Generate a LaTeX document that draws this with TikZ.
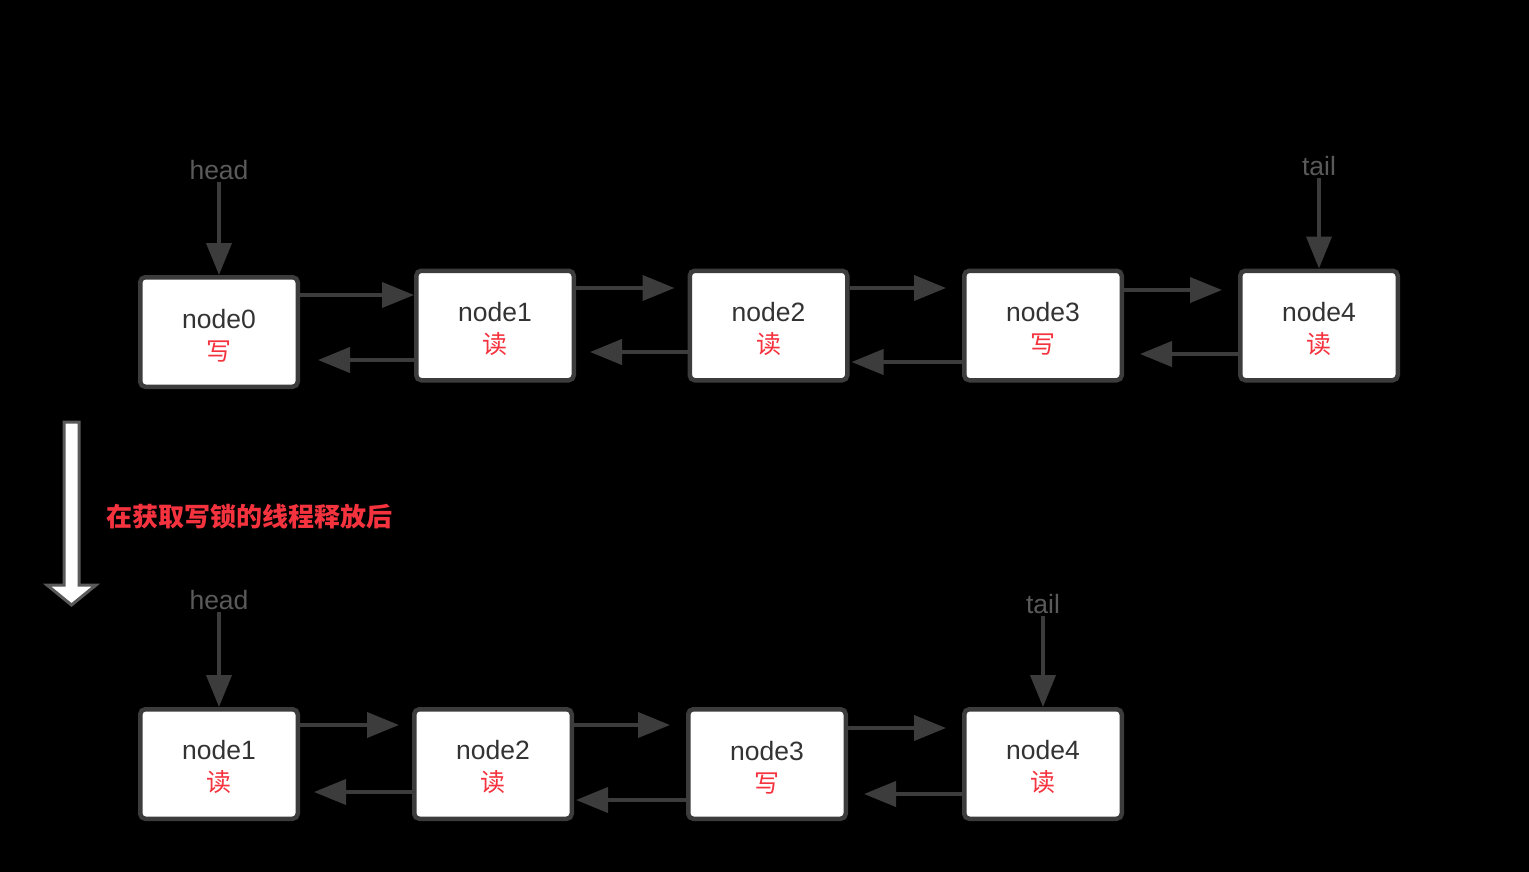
\documentclass[tikz,border=0pt]{standalone}
\usepackage{fontspec}
\setmainfont{Liberation Sans}
\newfontfamily\cjk{Noto Sans CJK SC}
\usetikzlibrary{arrows.meta}
\definecolor{lc}{HTML}{3C3C3C}
\definecolor{tc}{HTML}{333333}
\definecolor{gc}{HTML}{5A5A5A}
\definecolor{rc}{HTML}{F5333F}
\tikzset{
  box/.style={draw=lc, line width=4.5pt, fill=white, rounded corners=5pt,
    minimum width=157.5pt, minimum height=109.5pt, inner sep=0pt, align=center,
    text=tc, font=\fontsize{26.5}{32}\selectfont},
  link/.style={draw=lc, line width=4pt, -{Triangle[length=32pt,width=25pt]}},
  ptr/.style={text=gc, font=\fontsize{26.5}{30}\selectfont, inner sep=2pt},
}
\newcommand{\rd}[1]{{\color{rc}\cjk\fontsize{25}{32}\selectfont #1}}
\newcommand{\bx}[2]{\rule{0pt}{26pt}#1\\\rd{#2}}
\begin{document}
\begin{tikzpicture}[x=1pt,y=-1pt]
\fill[black] (0,0) rectangle (1529,872);
\useasboundingbox (0,0) rectangle (1529,872);
% top row
\node[box] (n0) at (219,332) {\bx{node0}{写}};
\node[box] (n1) at (495,325.5) {\bx{node1}{读}};
\node[box] (n2) at (768.5,325.5) {\bx{node2}{读}};
\node[box] (n3) at (1043,325.5) {\bx{node3}{写}};
\node[box] (n4) at (1319,325.5) {\bx{node4}{读}};
\node[ptr] (h1) at (219,170) {head};
\node[ptr] (t1) at (1319,166) {tail};
\draw[link] (h1.south) -- (n0.north);
\draw[link] (t1.south) -- (n4.north);
\draw[link] (n0.east |- 0,295) -- (n1.west |- 0,295);
\draw[link, shorten >=13pt] (n1.east |- 0,288) -- (n2.west |- 0,288);
\draw[link, shorten >=16pt] (n2.east |- 0,288) -- (n3.west |- 0,288);
\draw[link, shorten >=16pt] (n3.east |- 0,290) -- (n4.west |- 0,290);
\draw[link, shorten >=18pt] (n1.west |- 0,360) -- (n0.east |- 0,360);
\draw[link, shorten >=14pt] (n2.west |- 0,352) -- (n1.east |- 0,352);
\draw[link, shorten >=2pt] (n3.west |- 0,362) -- (n2.east |- 0,362);
\draw[link, shorten >=16pt] (n4.west |- 0,354) -- (n3.east |- 0,354);
% big arrow
\draw[draw=gc, line width=3pt, fill=white, line join=miter]
  (64,422) -- (79,422) -- (79,585) -- (96,585) -- (71.5,605) -- (47,585) -- (64,585) -- cycle;
\node[text=rc, font=\cjk\bfseries\fontsize{26}{30}\selectfont, anchor=west, inner sep=0pt] (cap) at (106,517) {在获取写锁的线程释放后};
% bottom row
\node[box] (m1) at (219,764) {\bx{node1}{读}};
\node[box] (m2) at (493,764) {\bx{node2}{读}};
\node[box] (m3) at (767,764) {\bx{node3}{写}};
\node[box] (m4) at (1043,764) {\bx{node4}{读}};
\node[ptr] (h2) at (219,600) {head};
\node[ptr] (t2) at (1043,604) {tail};
\draw[link] (h2.south) -- (m1.north);
\draw[link] (t2.south) -- (m4.north);
\draw[link, shorten >=13pt] (m1.east |- 0,725) -- (m2.west |- 0,725);
\draw[link, shorten >=16pt] (m2.east |- 0,725) -- (m3.west |- 0,725);
\draw[link, shorten >=16pt] (m3.east |- 0,728) -- (m4.west |- 0,728);
\draw[link, shorten >=14pt] (m2.west |- 0,792) -- (m1.east |- 0,792);
\draw[link, shorten >=2pt] (m3.west |- 0,800) -- (m2.east |- 0,800);
\draw[link, shorten >=16pt] (m4.west |- 0,794) -- (m3.east |- 0,794);
\end{tikzpicture}
\end{document}
